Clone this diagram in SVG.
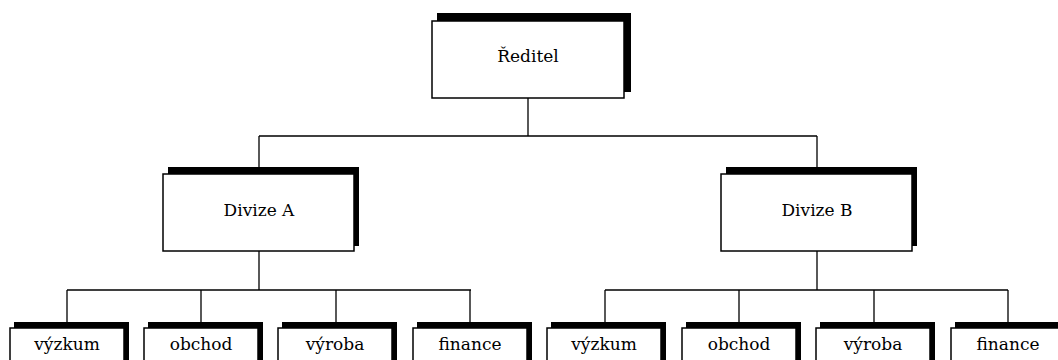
<svg xmlns="http://www.w3.org/2000/svg" width="1058" height="360" viewBox="0 0 1058 360">
<style>
.sh{fill:#000}
.bx{fill:#fff;stroke:#000;stroke-width:1.5}
.t{font-family:'DejaVu Serif','Liberation Serif',serif;font-size:17px;fill:#000;text-anchor:middle}
.c{stroke:#000;stroke-width:1.3;fill:none}
</style>
<rect width="1058" height="360" fill="#fff"/>
<g id="connectors">
<path class="c" d="M528 98V136M259 136H817M259 136V174M817 136V174"/>
<path class="c" d="M259 251V290M67 290H471M67 290V328M201 290V328M336 290V328M470 290V328"/>
<path class="c" d="M817 251V290M605 290H1008M605 290V328M739 290V328M874 290V328M1008 290V328"/>
</g>
<g id="reditel">
<rect class="sh" x="437" y="13" width="194" height="79"/>
<rect class="bx" x="432" y="21" width="192" height="77"/>
<text class="t" x="528" y="62">Ředitel</text>
</g>
<g id="divizeA">
<rect class="sh" x="168" y="167" width="191" height="79"/>
<rect class="bx" x="163" y="174" width="191" height="77"/>
<text class="t" x="259" y="216">Divize A</text>
</g>
<g id="divizeB">
<rect class="sh" x="726" y="167" width="191" height="79"/>
<rect class="bx" x="721" y="174" width="191" height="77"/>
<text class="t" x="817" y="216">Divize B</text>
</g>
<g id="a-vyzkum">
<rect class="sh" x="14" y="322" width="115" height="50"/>
<rect class="bx" x="10" y="328" width="114" height="50"/>
<text class="t" x="67" y="350">výzkum</text>
</g>
<g id="a-obchod">
<rect class="sh" x="148" y="322" width="115" height="50"/>
<rect class="bx" x="144" y="328" width="114" height="50"/>
<text class="t" x="201" y="350">obchod</text>
</g>
<g id="a-vyroba">
<rect class="sh" x="282" y="322" width="115" height="50"/>
<rect class="bx" x="278" y="328" width="114" height="50"/>
<text class="t" x="335" y="350">výroba</text>
</g>
<g id="a-finance">
<rect class="sh" x="417" y="322" width="115" height="50"/>
<rect class="bx" x="413" y="328" width="114" height="50"/>
<text class="t" x="470" y="350">finance</text>
</g>
<g id="b-vyzkum">
<rect class="sh" x="551" y="322" width="115" height="50"/>
<rect class="bx" x="547" y="328" width="114" height="50"/>
<text class="t" x="604" y="350">výzkum</text>
</g>
<g id="b-obchod">
<rect class="sh" x="686" y="322" width="115" height="50"/>
<rect class="bx" x="682" y="328" width="114" height="50"/>
<text class="t" x="739" y="350">obchod</text>
</g>
<g id="b-vyroba">
<rect class="sh" x="820" y="322" width="115" height="50"/>
<rect class="bx" x="816" y="328" width="114" height="50"/>
<text class="t" x="873" y="350">výroba</text>
</g>
<g id="b-finance">
<rect class="sh" x="955" y="322" width="115" height="50"/>
<rect class="bx" x="951" y="328" width="114" height="50"/>
<text class="t" x="1008" y="350">finance</text>
</g>
</svg>
